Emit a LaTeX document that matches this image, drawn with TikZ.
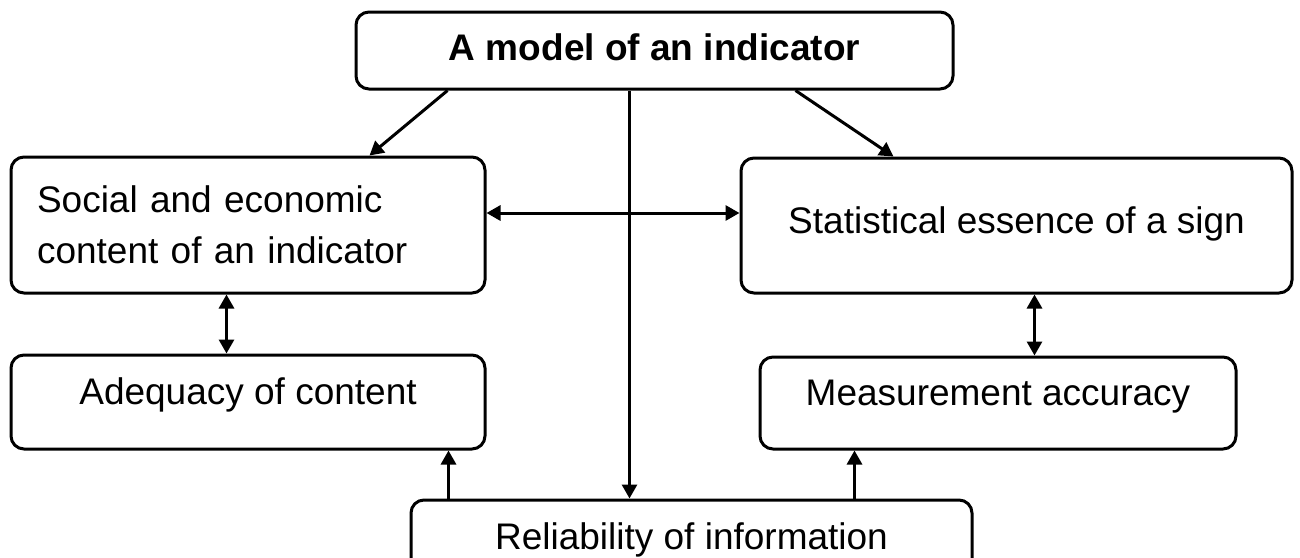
\documentclass[tikz,border=0pt]{standalone}
\usepackage{fontspec}
\setmainfont{Liberation Sans}
\usetikzlibrary{arrows.meta}
\begin{document}
\begin{tikzpicture}[x=0.5pt, y=-0.5pt,
    box/.style={draw, line width=1.5pt, rounded corners=6.5pt, inner sep=0pt,
      font=\fontsize{18.5}{25.5}\selectfont},
    one/.style={text height=13.5pt, text depth=4pt},
    low/.style={text height=13.5pt, text depth=11.5pt},
    arr/.style={line width=1.5pt, -{Triangle[length=7pt,width=7.5pt]}},
    both/.style={line width=1.5pt, {Triangle[length=7pt,width=7.5pt]}-{Triangle[length=7pt,width=7.5pt]}}]
  \useasboundingbox (0,0) rectangle (1300,557);
  \node[box, one, minimum width=298.5pt, minimum height=38.5pt,
    font=\fontsize{18.5}{25.5}\selectfont\bfseries] (model) at (654.5,50.5) {A model of an indicator};
  \node[box, minimum width=237pt, minimum height=68pt, text width=211pt, align=left] (social) at (248,225) {Social and economic\\content of an indicator};
  \node[box, text height=13.5pt, text depth=6pt, minimum width=275.5pt, minimum height=67.5pt] (stat) at (1016.5,225.5) {Statistical essence of a sign};
  \node[box, low, minimum width=237pt, minimum height=47pt] (adeq) at (248,402) {Adequacy of content};
  \node[box, low, minimum width=238pt, minimum height=46pt] (meas) at (998,403) {Measurement accuracy};
  \node[box, low, minimum width=280.5pt, minimum height=47pt] (rel) at (691.5,547) {Reliability of information};
  \draw[arr] ([xshift=46.5pt]model.south west) -- ([xshift=180pt]social.north west);
  \draw[arr] ([xshift=220.5pt]model.south west) -- ([xshift=77pt]stat.north west);
  \draw[arr] ([xshift=137.5pt]model.south west) coordinate (m) -- (m |- rel.north);
  \draw[both] ([yshift=6pt]social.east) -- ([yshift=6pt]social.east -| stat.west);
  \draw[both] ([xshift=108.5pt]social.south west) coordinate (s) -- (s |- adeq.north);
  \draw[both] ([xshift=147.5pt]stat.south west) coordinate (t) -- (t |- meas.north);
  \draw[arr] ([xshift=19.5pt]rel.north west) coordinate (r1) -- (r1 |- adeq.south);
  \draw[arr] ([xshift=222.5pt]rel.north west) coordinate (r2) -- (r2 |- meas.south);
\end{tikzpicture}
\end{document}
